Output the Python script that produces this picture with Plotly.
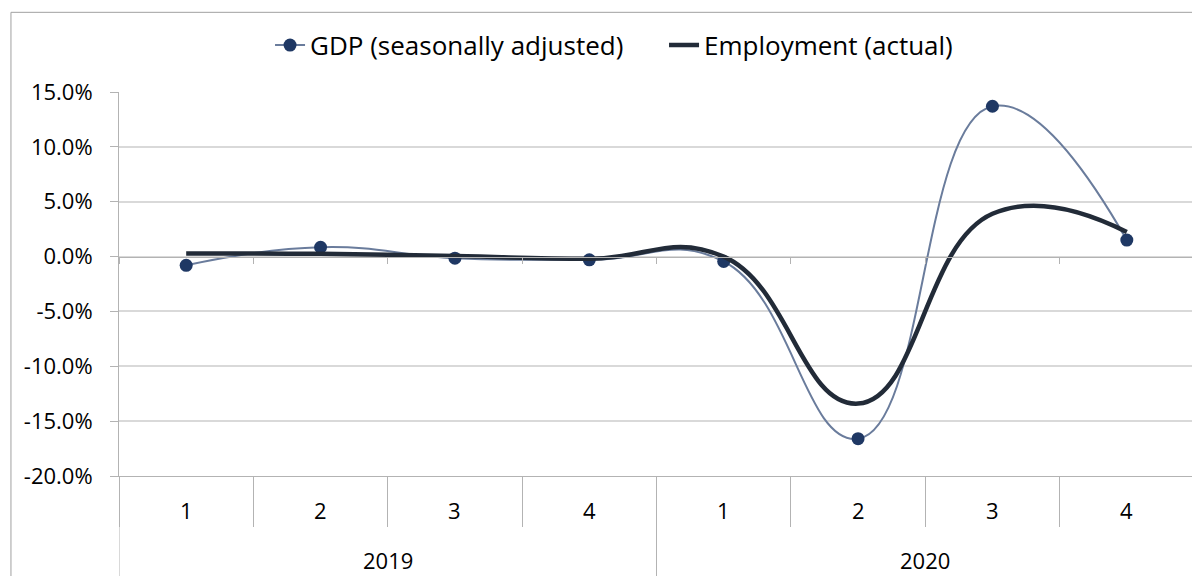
import plotly.graph_objects as go

years = ["2019"] * 4 + ["2020"] * 4
quarters = ["1", "2", "3", "4", "1", "2", "3", "4"]
gdp = [-0.8, 0.85, -0.15, -0.3, -0.45, -16.6, 13.7, 1.5]
employment = [0.28, 0.25, 0.05, -0.2, 0.0, -13.4, 3.9, 2.25]
y_ticks = [15, 10, 5, 0, -5, -10, -15, -20]

FONT = "Open Sans"
GRID = "#d9d9d9"
AXIS = "#b3b3b3"

idx = list(range(len(quarters)))

fig = go.Figure()
fig.add_trace(go.Scatter(
    x=idx, y=gdp, name="GDP (seasonally adjusted)",
    mode="lines+markers",
    line=dict(color="#6a7c9c", width=2, shape="spline", smoothing=1.3),
    marker=dict(color="#1f3864", size=13),
))
# employment sits on an overlay axis that draws the zero line and its tick marks
fig.add_trace(go.Scatter(
    x=idx, y=employment, name="Employment (actual)",
    mode="lines", xaxis="x2",
    line=dict(color="#222b38", width=4.5, shape="spline", smoothing=1.3),
))

lo, hi = y_ticks[-1], y_ticks[0]
# the page body adds an 8px offset, so the figure is 8px smaller than the window
fig.update_layout(
    width=1192, height=568,
    margin=dict(l=111, r=6, t=84, b=100, autoexpand=False),
    plot_bgcolor="white", paper_bgcolor="white",
    font=dict(family=FONT, size=22, color="#000000"),
    showlegend=True,
    legend=dict(orientation="h", x=0.1405, xanchor="left", y=1.122, yanchor="middle",
                font=dict(size=26), itemwidth=30, entrywidth=349, traceorder="normal"),
    xaxis=dict(range=[-0.5, len(idx) - 0.5], tick0=-0.5, dtick=1, showticklabels=False,
               ticks="outside", ticklen=50, tickcolor=AXIS, showgrid=False, zeroline=False,
               showline=True, linecolor=AXIS, linewidth=1),
    xaxis2=dict(overlaying="x", anchor="free", position=-lo / (hi - lo),
                range=[-0.5, len(idx) - 0.5], tick0=-0.5, dtick=1, ticks="outside", ticklen=6,
                tickcolor=AXIS, showticklabels=False, showgrid=False, showline=True,
                linecolor=AXIS, zeroline=False),
    yaxis=dict(range=[lo, hi], tickvals=y_ticks, ticktext=[f"{v:.1f}%" for v in y_ticks],
               showgrid=True, gridcolor=GRID, gridwidth=1.5, zeroline=False,
               showline=True, linecolor=AXIS, ticks="outside", ticklen=8, tickcolor=AXIS,
               ticklabelstandoff=13, tickfont=dict(size=22)),
)

# quarter labels
for i, q in enumerate(quarters):
    fig.add_annotation(x=i, y=0, xref="x", yref="paper", text=q, showarrow=False,
                       yshift=-34, yanchor="middle", font=dict(size=22))

# year labels and dividers
groups = []
for i, yr in enumerate(years):
    if not groups or groups[-1][0] != yr:
        groups.append([yr, i, i])
    else:
        groups[-1][2] = i
for yr, a, b in groups:
    fig.add_annotation(x=(a + b) / 2, y=0, xref="x", yref="paper", text=yr, showarrow=False,
                       yshift=-84, yanchor="middle", font=dict(size=22))
    for edge in (a - 0.5, b + 0.5):
        fig.add_shape(type="line", xref="x", yref="paper", x0=edge, x1=edge, y0=0, y1=-0.4,
                      line=dict(color=AXIS, width=1))

# chart outer border
fig.add_shape(type="rect", xref="paper", yref="paper", x0=-0.1005, y0=-0.4, x1=1.02, y1=1.2075,
              line=dict(color="#a0a0a0", width=1), fillcolor="rgba(0,0,0,0)", layer="below")

fig.write_html("out.html")
